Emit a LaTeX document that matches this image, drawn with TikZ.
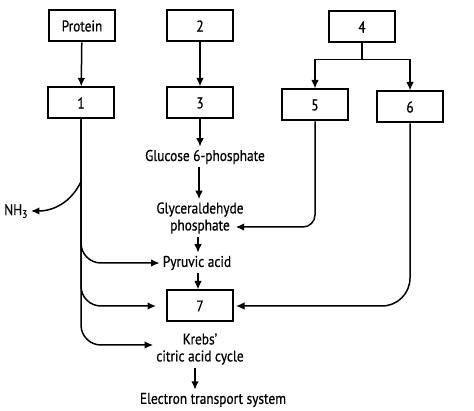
\documentclass[tikz,border=0pt]{standalone}
\usepackage{fontspec}
\setmainfont{PT Sans}[FakeStretch=0.86,FakeBold=0.6]
\usetikzlibrary{arrows.meta,positioning,calc}

\begin{document}
\begin{tikzpicture}[x=1pt, y=-1pt,
  font=\fontsize{15.5}{17}\selectfont,
  box/.style={draw, line width=2pt, minimum width=66pt, minimum height=31pt, inner sep=2pt},
  txt/.style={align=center, inner sep=3pt},
  arr/.style={-{Latex[length=8.5pt,width=7.5pt]}, line width=1.5pt},
  ln/.style={line width=1.5pt}
]
  \useasboundingbox (0,0) rectangle (474,411);
  % boxes
  \node[box] (prot) at (82,26) {Protein};
  \node[box] (b2) at (200,26) {2};
  \node[box] (b4) at (362,27) {4};
  \node[box] (b1) at (81,103) {1};
  \node[box] (b3) at (200,103) {3};
  \node[box] (b5) at (315,105) {5};
  \node[box] (b6) at (410,107) {6};
  \node[box] (b7) at (200,306) {7};
  % compounds
  \node[txt] (glc) at (205,157) {Glucose 6-phosphate};
  \node[txt] (gap) at (200,218) {Glyceraldehyde\\phosphate};
  \node[txt] (pyr) at (197,263) {Pyruvic acid};
  \node[txt] (krebs) at (200,349) {Krebs'\\citric acid cycle};
  \node[txt] (ets) at (213,400) {Electron transport system};
  \node[txt] (nh3) at (16,211) {NH\textsubscript{3}};
  \coordinate (fork) at ([yshift=-16pt]b4.south);
  % straight arrows
  \draw[arr] (prot) -- (b1);
  \draw[arr] (b2) -- (b3);
  \draw[ln] (b4.south) -- (fork);
  \draw[arr] (fork) -| (b5);
  \draw[arr] (fork) -| (b6);
  \draw[arr] (b3.south) -- (b3.south |- glc.north);
  \draw[arr] ([xshift=-6pt]glc.south) -- ([xshift=-6pt]glc.south |- gap.north);
  \draw[arr] ([xshift=-2pt]gap.south) -- ([xshift=-2pt]gap.south |- pyr.north);
  \draw[arr] ([xshift=1pt]pyr.south) -- ([xshift=1pt]pyr.south |- b7.north);
  \draw[arr] ([xshift=-5pt]krebs.south) -- ([xshift=-5pt]krebs.south |- ets.north);
  % side routes
  \draw[arr, rounded corners=12pt] (b5.south) |- ([xshift=-11pt,yshift=-9pt]gap.east);
  \draw[arr, rounded corners=28pt] (b6.south) |- ([xshift=2pt]b7.east);
  \draw[arr] ([yshift=-62pt]b1.south) to[out=-115,in=0] (nh3.east);
  \draw[arr, rounded corners=20pt] (b1.south) |- (pyr.west);
  \draw[arr, rounded corners=20pt] (b1.south) |- ([xshift=-10pt]b7.west);
  \draw[arr, rounded corners=20pt] (b1.south) |- ([yshift=4pt]krebs.west);
\end{tikzpicture}
\end{document}
